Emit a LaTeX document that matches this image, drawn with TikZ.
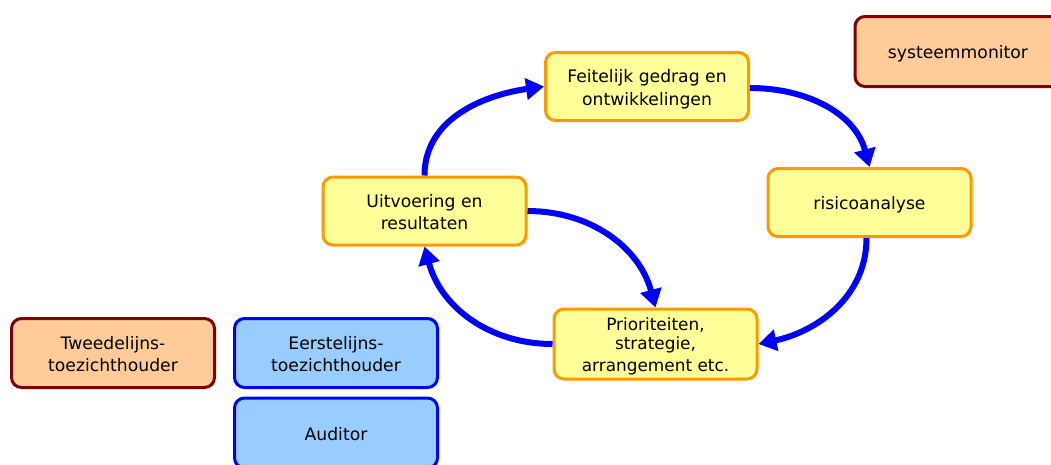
\documentclass[tikz,border=0pt]{standalone}
\usepackage{fontspec}
\setmainfont{DejaVu Sans}
\usetikzlibrary{arrows.meta}

\definecolor{cyclefill}{HTML}{FFFF99}
\definecolor{cycleedge}{HTML}{FF9900}
\definecolor{peachfill}{HTML}{FFCC99}
\definecolor{peachedge}{HTML}{800000}
\definecolor{bluefill}{HTML}{99CCFF}
\definecolor{blueedge}{HTML}{0000FF}
\definecolor{flow}{HTML}{0000FF}

% fixed line boxes: every text line is 18pt high and 3pt deep
\newcommand\boxstrut{\rule[-3pt]{0pt}{21pt}}
% tighter line boxes for the three-line box
\newcommand\tightstrut{\rule[-2.4pt]{0pt}{19.8pt}}

\tikzset{
  basebox/.style={rounded corners=10pt, line width=3pt, align=center,
    font=\fontsize{17.2}{21}\selectfont, inner sep=0pt,
    minimum width=203pt, minimum height=68pt},
  cyclebox/.style={basebox, fill=cyclefill, draw=cycleedge},
  peachbox/.style={basebox, fill=peachfill, draw=peachedge},
  rolebox/.style={basebox, fill=bluefill, draw=blueedge},
  flowarrow/.style={draw=flow, line width=6pt,
    -{Triangle[length=18pt,width=21pt]}}
}

\begin{document}
\begin{tikzpicture}[x=1pt,y=-1pt]
\useasboundingbox (0,0) rectangle (1051,464);

% cycle of activities
\node[cyclebox] (feit) at (647,86.5)
  {\boxstrut Feitelijk gedrag en\\\boxstrut ontwikkelingen};
\node[cyclebox] (risk) at (869.5,202.5) {\boxstrut risicoanalyse};
\node[cyclebox, minimum height=70pt, font=\fontsize{16.9}{19.8}\selectfont] (prio) at (655.5,344)
  {\tightstrut Prioriteiten,\\\tightstrut strategie,\\\tightstrut arrangement etc.};
\node[cyclebox] (uitv) at (424.5,211)
  {\boxstrut Uitvoering en\\\boxstrut resultaten};

% actors
\node[peachbox, minimum height=70pt, minimum width=206pt] (mon) at (958,51.5)
  {\boxstrut systeemmonitor};
\node[peachbox, minimum height=69pt] (tweede) at (113,353)
  {\boxstrut Tweedelijns-\\\boxstrut toezichthouder};
\node[rolebox, minimum height=69pt] (eerste) at (336,353)
  {\boxstrut Eerstelijns-\\\boxstrut toezichthouder};
\node[rolebox, minimum height=70pt] (audit) at (336,433) {\boxstrut Auditor};

% connectors of the cycle
\draw[flowarrow] (uitv.north) to[out=90, in=188] (feit.west);
\draw[flowarrow] ([yshift=-1.5pt]feit.east) to[out=0, in=105] (risk.north);
\draw[flowarrow] ([xshift=-3pt]risk.south) to[out=-90, in=12] (prio.east);
\draw[flowarrow] (prio.west) to[out=180, in=-75] (uitv.south);
\draw[flowarrow] (uitv.east) to[out=0, in=105] (prio.north);
\end{tikzpicture}
\end{document}
